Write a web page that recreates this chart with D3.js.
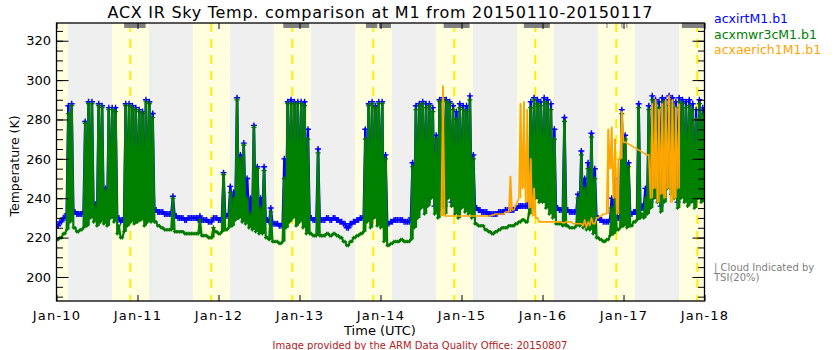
<!DOCTYPE html>
<html><head><meta charset="utf-8">
<script src="https://cdn.jsdelivr.net/npm/d3@7"></script>
<style>
body{margin:0;background:#fff;}
svg text{font-family:"DejaVu Sans",sans-serif;}
</style></head><body>
<svg id="chart" width="840" height="350"></svg>
<script>
// ---------- data ----------
const startDate = Date.UTC(2015, 0, 10);
const dayLabels = [0,1,2,3,4,5,6,7,8];               // days after Jan-10 00 UTC
const daylightStart = [-0.315,0.685,1.685,2.685,3.685,4.685,5.685,6.685,7.685];
const daylightEnd   = [0.14,1.14,2.14,3.14,4.14,5.14,6.14,7.14,8.14];
const solarNoon     = [0.911,1.911,2.911,3.911,4.911,5.911,6.911,7.911];
const cloudStart = [0.835,2.80,3.82,3.98,4.78,5.77,6.79,6.975,7.035,7.72];
const cloudEnd   = [1.10,3.12,3.96,4.13,5.10,6.09,6.797,6.982,7.043,8.0];
const yMajor = [200,220,240,260,280,300,320];
const yMinor = [190,195,200,205,210,215,220,225,230,235,240,245,250,255,260,265,270,275,280,285,290,295,300,305,310,315,320,325];

// hourly values (hour 0 = Jan-10 00 UTC), low/high within each hour
const mwrLo = [
219,220,222,224,228,225,223,224,225,226,230,228,226,228,227,226,230,228,222,220,223,226,228,227,
228,229,226,228,228,228,226,225,224,224,224,223,223,223,222,222,222,222,222,221,221,220,220,223,
222,223,224,225,226,229,230,228,227,225,224,223,222,222,220,219,218,218,217,218,225,228,230,226,
228,225,222,222,221,221,221,221,222,221,222,221,220,218,216,218,220,221,222,223,228,225,230,226,
225,218,216,217,218,218,219,218,218,219,225,230,235,232,236,240,232,230,235,232,240,236,232,230,
235,233,232,230,227,226,226,224,223,222,223,224,225,225,226,226,227,228,229,228,232,235,240,238,
238,235,232,230,227,227,226,226,225,225,226,226,225,224,224,222,220,219,218,219,221,222,224,225,
226,225,226,228,229,230,230,232,235,240,238,233,238,245,242,240,235,240,238,236,238,235,240,238];
const mwrHi = [
219,220,222,283,287,225,223,224,278,288,288,236,287,286,244,285,285,284,226,220,287,287,286,285,
284,283,289,288,281,228,226,225,224,224,240,223,223,223,222,222,222,222,229,221,221,220,225,223,
222,252,224,243,240,290,260,267,240,232,276,255,235,254,220,233,218,218,217,250,288,288,288,288,
288,287,270,222,221,263,221,221,222,221,222,221,220,218,216,218,220,221,222,270,287,288,286,288,
288,260,216,217,218,218,219,218,218,256,285,287,288,286,287,284,270,289,290,289,288,285,280,286,
285,284,290,260,227,226,226,224,223,222,223,224,225,225,226,226,227,228,229,228,286,290,288,287,
289,288,285,270,227,227,279,226,225,225,240,262,245,255,271,250,220,219,218,219,235,245,224,283,
270,256,226,228,286,232,240,285,290,288,286,289,287,290,288,286,289,288,286,287,285,280,288,283];
const irtLo = [
226,228,230,232,231,233,232,232,233,231,232,231,230,231,230,230,231,230,229,228,229,230,230,230,
231,232,231,232,232,234,233,233,232,232,232,231,230,230,229,230,230,230,229,229,229,228,228,230,
229,230,231,232,233,235,236,234,233,232,231,231,230,230,229,228,227,227,226,227,230,232,233,231,
232,230,230,230,229,229,229,229,230,229,230,229,228,227,225,227,228,229,230,230,232,230,232,230,
230,228,227,228,229,229,229,228,228,230,232,234,238,236,238,242,236,234,238,236,242,238,236,234,
237,236,236,236,235,234,233,233,232,232,232,233,233,234,234,234,235,236,236,236,238,240,242,240,
241,238,236,235,235,234,234,234,233,233,233,233,232,232,232,231,230,229,228,228,229,230,230,231,
231,231,232,233,234,234,235,236,238,242,240,236,240,248,245,243,238,243,241,240,241,238,243,241];
const irtHi = [
226,228,230,287,288,233,232,232,279,289,289,237,288,287,245,286,286,286,230,229,288,288,287,286,
285,284,290,289,283,234,233,233,232,232,241,231,230,230,229,230,230,230,231,229,229,228,230,230,
229,253,231,246,243,291,262,268,250,240,277,256,240,256,229,235,227,227,226,260,289,290,289,289,
289,289,275,230,229,265,229,229,230,229,230,229,228,227,225,227,228,229,230,275,288,289,287,289,
289,262,227,228,229,229,229,228,228,258,287,288,289,288,288,286,272,290,291,290,289,287,284,288,
287,287,292,262,235,234,233,233,232,232,232,233,233,234,234,234,235,236,236,236,289,291,290,289,
291,290,288,275,235,234,281,234,233,233,242,264,250,258,273,255,230,229,228,228,240,250,230,285,
272,258,232,233,288,236,245,287,292,290,289,291,290,292,291,289,291,290,289,290,288,285,290,286];
const N = null;
const aerLo = [
N,N,N,N,N,N,N,N,N,N,N,N,N,N,N,N,N,N,N,N,N,N,N,N,
N,N,N,N,N,N,N,N,N,N,N,N,N,N,N,N,N,N,N,N,N,N,N,N,
N,N,N,N,N,N,N,N,N,N,N,N,N,N,N,N,N,N,N,N,N,N,N,N,
N,N,N,N,N,N,N,N,N,N,N,N,N,N,N,N,N,N,N,N,N,N,N,N,
N,N,N,N,N,N,N,N,N,N,N,N,N,N,N,N,N,N,231,231,231,231,231,231,
231,231,231,231,231,231,231,231,231,231.5,232,232,232,233,233,234,236,240,245,238,235,231,230,228,
228,228,228,228,228,228,227.5,228,228,227,227,227,226,225,226,227,230,231,232,232,255,240,232,260,
268.5,N,N,N,N,N,N,262,240,245,238,242,240,245,238,240,245,N,N,N,N,N,N,N];
const aerHi = [
N,N,N,N,N,N,N,N,N,N,N,N,N,N,N,N,N,N,N,N,N,N,N,N,
N,N,N,N,N,N,N,N,N,N,N,N,N,N,N,N,N,N,N,N,N,N,N,N,
N,N,N,N,N,N,N,N,N,N,N,N,N,N,N,N,N,N,N,N,N,N,N,N,
N,N,N,N,N,N,N,N,N,N,N,N,N,N,N,N,N,N,N,N,N,N,N,N,
N,N,N,N,N,N,N,N,N,N,N,N,N,N,N,N,N,N,297,231,231,231,231,231,
231,231,231,231,231,231,231,231,231,231.5,232,232,232,233,251,234,238,288,289,285,260,245,230,228,
228,228,228,228,228,228,227.5,228,228,227,227,227,229,228,230,227,230,231,232,275,276,270,260,284,
268.5,N,N,N,N,N,N,262,288,290,285,288,290,292,290,286,288,N,N,N,N,N,N,N];

// ---------- chart ----------
const svg = d3.select("#chart");
const pL = 56.5, pR = 704.5, pT = 23, pB = 301;
const dayDate = d => new Date(startDate + d * 864e5);
const hourDate = h => new Date(startDate + h * 36e5);
const x = d3.scaleUtc().domain([dayDate(0), dayDate(8)]).range([pL, pR]);
const y = d3.scaleLinear().domain([187.8, 329]).range([pB, pT]);

svg.append("defs").append("clipPath").attr("id", "plot")
  .append("rect").attr("x", pL).attr("y", pT).attr("width", pR - pL).attr("height", pB - pT);
const g = svg.append("g").attr("clip-path", "url(#plot)");

g.append("rect").attr("x", pL).attr("y", pT).attr("width", pR - pL).attr("height", pB - pT).attr("fill", "#efefef");
daylightStart.forEach((s, i) => {
  g.append("rect").attr("x", x(dayDate(s))).attr("y", pT)
    .attr("width", x(dayDate(daylightEnd[i])) - x(dayDate(s))).attr("height", pB - pT)
    .attr("fill", "#ffffe0");
});
solarNoon.forEach(n => {
  g.append("line").attr("x1", x(dayDate(n))).attr("x2", x(dayDate(n)))
    .attr("y1", pT).attr("y2", pB).attr("stroke", "#ffee00")
    .attr("stroke-width", 2).attr("stroke-dasharray", "9,7");
});

function zig(lo, hi) {
  const pts = [];
  lo.forEach((v, i) => {
    if (v == null) return;
    pts.push([i, v, false]);
    pts.push([i + 0.5, hi[i], hi[i] - v > 4]);
  });
  return pts;
}
const line = d3.line().x(d => x(hourDate(d[0]))).y(d => y(d[1]));
const plus = (pts, s) => pts.map(d => {
  const px = x(hourDate(d[0])), py = y(d[1]);
  return `M${px - s},${py}H${px + s}M${px},${py - s}V${py + s}`;
}).join("");
// vertical range rules (lo..hi) for each hour where the value swings
const rules = (lo, hi) => lo.map((v, i) => (v == null || hi[i] - v <= 4) ? "" :
  `M${x(hourDate(i + 0.5))},${y(v)}V${y(hi[i])}`).join("");

function drawSeries(lo, hi, color, lw, ruleW) {
  const pts = zig(lo, hi);
  g.append("path").attr("d", rules(lo, hi)).attr("fill", "none").attr("stroke", color).attr("stroke-width", ruleW);
  g.append("path").attr("d", line(pts)).attr("fill", "none").attr("stroke", color).attr("stroke-width", lw)
    .attr("stroke-linejoin", "round");
  return pts;
}

const irtPts = drawSeries(irtLo, irtHi, "#0000ff", 2.4, 2);
g.append("path").attr("d", plus(irtPts, 3)).attr("fill", "none").attr("stroke", "#0000ff").attr("stroke-width", 1.4);

const mwrPts = drawSeries(mwrLo, mwrHi, "#008000", 2.2, 2.4);
g.append("path").attr("d", plus(mwrPts.filter(d => !d[2]), 1.8)).attr("fill", "none").attr("stroke", "#007800").attr("stroke-width", 1.2);
g.append("path").attr("d", plus(mwrPts.filter(d => d[2]), 2.5)).attr("fill", "none").attr("stroke", "#006f00").attr("stroke-width", 1.2);

drawSeries(aerLo, aerHi, "#ffa500", 1.6, 1.6);

cloudStart.forEach((s, i) => {
  g.append("rect").attr("x", x(dayDate(s))).attr("y", pT)
    .attr("width", Math.max(1, x(dayDate(cloudEnd[i])) - x(dayDate(s)))).attr("height", 5)
    .attr("fill", "#808080");
});

// axes
const fmt = d3.utcFormat("%b-%d");
const gx = svg.append("g").attr("transform", `translate(0,${pB})`)
  .call(d3.axisBottom(x).tickValues(dayLabels.map(dayDate)).tickFormat(fmt).tickSize(-6).tickPadding(0));
gx.select(".domain").remove();
gx.selectAll("text").attr("y", 19).attr("dy", 0).attr("font-family", "DejaVu Sans").attr("font-size", 13)
  .attr("letter-spacing", 1.2).attr("fill", "#000");
const gt = svg.append("g").attr("transform", `translate(0,${pT})`)
  .call(d3.axisTop(x).tickValues(dayLabels.map(dayDate)).tickFormat("").tickSize(-6));
gt.select(".domain").remove();

const gy = svg.append("g").attr("transform", `translate(${pL},0)`)
  .call(d3.axisLeft(y).tickValues(yMajor).tickSize(-12).tickPadding(5.5));
gy.select(".domain").remove();
gy.selectAll("text").attr("font-family", "DejaVu Sans").attr("font-size", 13).attr("fill", "#000");
svg.append("g").attr("transform", `translate(${pL},0)`)
  .call(d3.axisLeft(y).tickValues(yMinor).tickSize(-6.5).tickFormat("")).select(".domain").remove();
svg.append("g").attr("transform", `translate(${pR},0)`)
  .call(d3.axisRight(y).tickValues(yMajor).tickSize(-12).tickFormat("")).select(".domain").remove();
svg.append("g").attr("transform", `translate(${pR},0)`)
  .call(d3.axisRight(y).tickValues(yMinor).tickSize(-6.5).tickFormat("")).select(".domain").remove();

svg.append("rect").attr("x", pL).attr("y", pT).attr("width", pR - pL).attr("height", pB - pT)
  .attr("fill", "none").attr("stroke", "#000").attr("stroke-width", 1.3);

// texts
svg.append("text").attr("x", 380).attr("y", 17.5).attr("text-anchor", "middle").attr("font-size", 16)
  .attr("textLength", 545).attr("lengthAdjust", "spacing")
  .text("ACX IR Sky Temp. comparison at M1 from 20150110-20150117");
const legend = [["acxirtM1.b1", "#0000ff"], ["acxmwr3cM1.b1", "#008000"], ["acxaerich1M1.b1", "#ffa500"]];
legend.forEach((l, i) => {
  svg.append("text").attr("x", 714).attr("y", 23 + i * 15.5).attr("font-size", 12.5).attr("fill", l[1]).text(l[0]);
});
svg.append("text").attr("transform", "translate(19,166) rotate(-90)").attr("text-anchor", "middle")
  .attr("font-size", 12.5).text("Temperature (K)");
svg.append("text").attr("x", 380).attr("y", 335).attr("text-anchor", "middle").attr("font-size", 13).text("Time (UTC)");
svg.append("text").attr("x", 420).attr("y", 348.5).attr("text-anchor", "middle").attr("font-size", 10)
  .attr("fill", "#b22222").text("Image provided by the ARM Data Quality Office: 20150807");
svg.append("text").attr("x", 714).attr("y", 271).attr("font-size", 10).attr("fill", "#808080").text("| Cloud Indicated by");
svg.append("text").attr("x", 714).attr("y", 281).attr("font-size", 10).attr("fill", "#808080").text("TSI(20%)");
</script>
</body></html>
